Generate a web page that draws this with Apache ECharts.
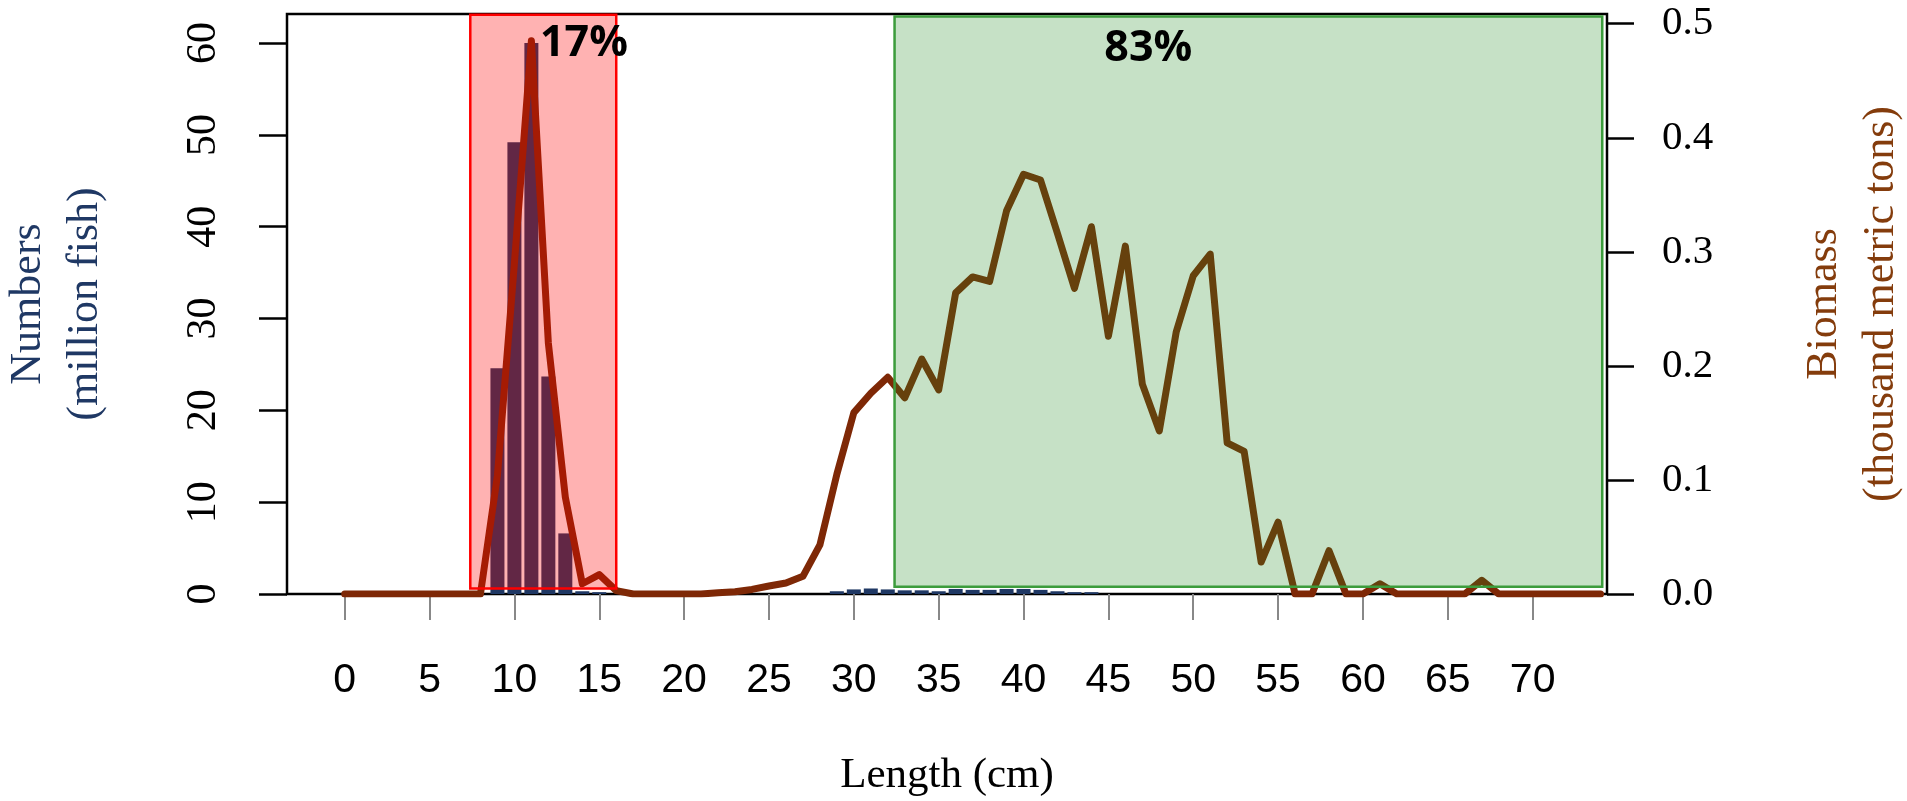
<!DOCTYPE html>
<html>
<head>
<meta charset="utf-8">
<title>Numbers and biomass at length</title>
<script src="https://cdn.jsdelivr.net/npm/echarts@6/dist/echarts.min.js"></script>
<style>
  html, body { margin: 0; padding: 0; background: #fff; }
  #chart { width: 1907px; height: 801px; }
</style>
</head>
<body>
<div id="chart"></div>
<script>
// length classes (cm)
var lengths = [0, 1, 2, 3, 4, 5, 6, 7, 8, 9, 10, 11, 12, 13, 14, 15, 16, 17, 18, 19,
  20, 21, 22, 23, 24, 25, 26, 27, 28, 29, 30, 31, 32, 33, 34, 35, 36, 37, 38, 39,
  40, 41, 42, 43, 44, 45, 46, 47, 48, 49, 50, 51, 52, 53, 54, 55, 56, 57, 58, 59,
  60, 61, 62, 63, 64, 65, 66, 67, 68, 69, 70, 71, 72, 73, 74];
// numbers (million fish)
var numbers = [0, 0, 0, 0, 0, 0, 0, 0, 0, 24.6, 49.2, 60.0, 23.7, 6.6, 0.3, 0.2, 0, 0, 0, 0,
  0, 0, 0, 0, 0, 0, 0, 0, 0, 0.3, 0.5, 0.6, 0.5, 0.4, 0.4, 0.3, 0.55, 0.45, 0.45, 0.55,
  0.55, 0.45, 0.3, 0.2, 0.2, 0, 0, 0, 0, 0, 0, 0, 0, 0, 0, 0, 0, 0, 0, 0,
  0, 0, 0, 0, 0, 0, 0, 0, 0, 0, 0, 0, 0, 0, 0];
// biomass (thousand metric tons)
var biomass = [0, 0, 0, 0, 0, 0, 0, 0, 0, 0.104, 0.29, 0.485, 0.22, 0.085, 0.009, 0.017, 0.003, 0, 0, 0,
  0, 0, 0.001, 0.002, 0.004, 0.007, 0.0096, 0.0155, 0.043, 0.105, 0.159, 0.176, 0.19, 0.172, 0.206, 0.179, 0.264, 0.278, 0.274, 0.336,
  0.368, 0.363, 0.316, 0.268, 0.322, 0.226, 0.305, 0.184, 0.143, 0.23, 0.279, 0.298, 0.1325, 0.125, 0.028, 0.063, 0, 0, 0.038, 0,
  0, 0.009, 0, 0, 0, 0, 0, 0.012, 0, 0, 0, 0, 0, 0, 0];

var xTicks = [0, 5, 10, 15, 20, 25, 30, 35, 40, 45, 50, 55, 60, 65, 70];
var leftTicks = [0, 10, 20, 30, 40, 50, 60];
var rightTicks = [0, 0.1, 0.2, 0.3, 0.4, 0.5];

// shaded length ranges and their share of biomass
var zoneStart = [7.4, 32.4];
var zoneEnd = [16.0, 74.1];
var zoneBottom = [0.6, 0.8];
var zoneTop = [63.1, 62.9];
var zoneLabels = ['17%', '83%'];
var zoneLabelX = [14.1, 47.35];
var zoneLabelY = [59.9, 59.4];

var zoneFill = ['rgba(255,0,0,0.3)', 'rgba(34,139,34,0.26)'];
var zoneStroke = ['#ff0000', '#3c9c3c'];

var serif = '"Liberation Serif", "Times New Roman", serif';
var sans = '"Liberation Sans", Arial, sans-serif';

var chart = echarts.init(document.getElementById('chart'));

var option = {
  animation: false,
  backgroundColor: '#fff',
  grid: {
    left: 287,
    right: 300,
    top: 14,
    bottom: 207,
    show: true,
    borderColor: '#000',
    borderWidth: 2.5,
    containLabel: false,
    outerBoundsMode: 'none'
  },
  xAxis: {
    type: 'value',
    min: -3.4,
    max: 74.38,
    axisLine: { show: false, onZero: false },
    splitLine: { show: false },
    axisTick: {
      show: true,
      length: 26,
      customValues: xTicks,
      lineStyle: { color: '#888', width: 2 }
    },
    axisLabel: {
      customValues: xTicks,
      margin: 66,
      fontFamily: sans,
      fontSize: 41,
      color: '#000'
    },
    name: 'Length (cm)',
    nameLocation: 'middle',
    nameGap: 160,
    nameTextStyle: { fontFamily: serif, fontSize: 43, color: '#000' }
  },
  yAxis: [
    {
      type: 'value',
      position: 'left',
      min: 0,
      max: 63.17,
      axisLine: { show: false, onZero: false },
      splitLine: { show: false },
      axisTick: {
        show: true,
        length: 28,
        customValues: leftTicks,
        lineStyle: { color: '#000', width: 2.5 }
      },
      axisLabel: {
        customValues: leftTicks,
        rotate: 90,
        margin: 62,
        fontFamily: serif,
        fontSize: 42,
        color: '#000'
      },
      name: 'Numbers\n(million fish)',
      nameLocation: 'middle',
      nameRotate: 90,
      nameGap: 173,
      nameTextStyle: { fontFamily: serif, fontSize: 44, lineHeight: 57, color: '#1F3864' }
    },
    {
      type: 'value',
      position: 'right',
      min: 0,
      max: 0.5085,
      axisLine: { show: false, onZero: false },
      splitLine: { show: false },
      axisTick: {
        show: true,
        length: 27,
        customValues: rightTicks,
        lineStyle: { color: '#000', width: 2.5 }
      },
      axisLabel: {
        customValues: rightTicks,
        margin: 55,
        fontFamily: serif,
        fontSize: 41,
        color: '#000',
        formatter: function (v) { return v.toFixed(1); }
      },
      name: 'Biomass\n(thousand metric tons)',
      nameLocation: 'middle',
      nameRotate: 90,
      nameGap: 189,
      nameTextStyle: { fontFamily: serif, fontSize: 44, lineHeight: 57, color: '#843C0C' }
    }
  ],
  series: [
    {
      name: 'Numbers',
      type: 'bar',
      xAxisIndex: 0,
      yAxisIndex: 0,
      barWidth: 14,
      z: 2,
      itemStyle: { color: '#1F3864' },
      data: lengths.map(function (x, i) { return [x, numbers[i]]; })
    },
    {
      name: 'Biomass',
      type: 'line',
      xAxisIndex: 0,
      yAxisIndex: 1,
      showSymbol: false,
      z: 3,
      lineStyle: { color: '#7E2806', width: 7, cap: 'round', join: 'round' },
      data: lengths.map(function (x, i) { return [x, biomass[i]]; })
    },
    {
      // shaded ranges, drawn over the bars and line
      type: 'custom',
      xAxisIndex: 0,
      yAxisIndex: 0,
      z: 4,
      silent: true,
      encode: { x: [0, 1], y: [2, 3] },
      renderItem: function (params, api) {
        var a = api.coord([api.value(0), api.value(3)]);
        var b = api.coord([api.value(1), api.value(2)]);
        return {
          type: 'rect',
          shape: { x: a[0], y: a[1], width: b[0] - a[0], height: b[1] - a[1] },
          style: {
            fill: zoneFill[params.dataIndex],
            stroke: zoneStroke[params.dataIndex],
            lineWidth: 2.5
          }
        };
      },
      data: zoneStart.map(function (s, i) {
        return [s, zoneEnd[i], zoneBottom[i], zoneTop[i]];
      })
    },
    {
      // percentage labels
      type: 'custom',
      xAxisIndex: 0,
      yAxisIndex: 0,
      z: 5,
      silent: true,
      encode: { x: 0, y: 1 },
      renderItem: function (params, api) {
        var p = api.coord([api.value(0), api.value(1)]);
        return {
          type: 'text',
          x: p[0],
          y: p[1],
          style: {
            text: zoneLabels[params.dataIndex],
            fill: '#000',
            fontFamily: '"Open Sans", Lato, sans-serif',
            fontWeight: 'bold',
            fontSize: 43,
            align: 'center',
            verticalAlign: 'middle'
          }
        };
      },
      data: zoneLabelX.map(function (x, i) { return [x, zoneLabelY[i]]; })
    }
  ]
};

chart.setOption(option);
</script>
</body>
</html>
